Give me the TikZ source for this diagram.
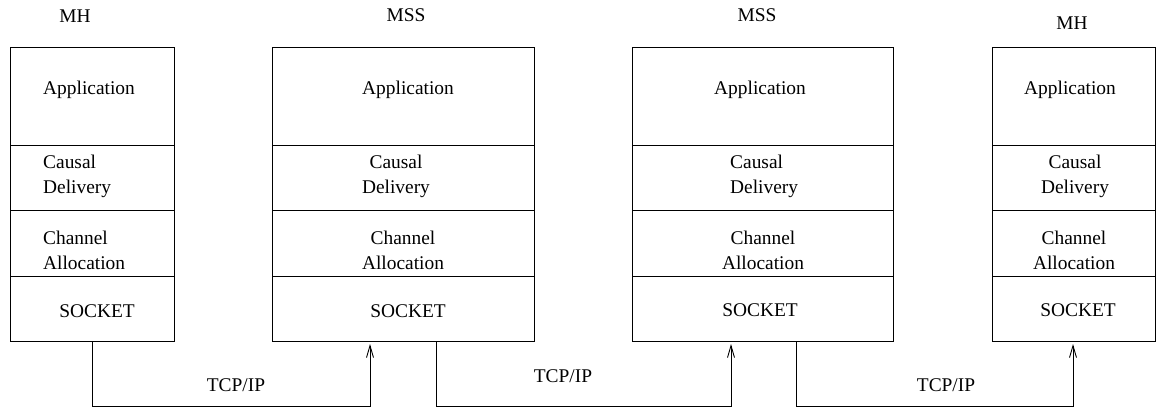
\documentclass[tikz,border=0pt]{standalone}
\usepackage{fontspec}
\setmainfont{Liberation Serif}
\usetikzlibrary{arrows.meta}
\begin{document}
\begin{tikzpicture}[x=1pt,y=-1pt,
  layer/.style={draw, line width=0.9pt, rectangle, inner sep=0pt, outer sep=0pt, anchor=north west},
  txt/.style={font=\fontsize{19.4}{25}\selectfont, inner sep=0pt},
  conn/.style={line width=0.9pt, -{Straight Barb[length=12pt,width=7pt]}, shorten >=3pt}]
\useasboundingbox (0,0) rectangle (1157,410);

% protocol stacks: application, causal delivery, channel allocation, socket
\foreach \n/\x/\w in {1/10/164, 2/272/262, 3/632/261, 4/992/163}{
  \node[layer, minimum width=\w pt, minimum height=98pt] (app\n) at (\x,47) {};
  \node[layer, minimum width=\w pt, minimum height=65pt] (cd\n) at (\x,145) {};
  \node[layer, minimum width=\w pt, minimum height=66pt] (ca\n) at (\x,210) {};
  \node[layer, minimum width=\w pt, minimum height=65pt] (sk\n) at (\x,276) {};
}

% host names
\node[txt] (h1) at (75,16) {MH};
\node[txt] (h2) at (406,15) {MSS};
\node[txt] (h3) at (757,15) {MSS};
\node[txt] (h4) at (1072,23) {MH};

% stack 1
\node[txt] (a1) at (89,90) {Application};
\node[txt, anchor=west, align=left] (c1) at (43,176) {Causal\\Delivery};
\node[txt, anchor=west, align=left] (l1) at (43,250) {Channel\\Allocation};
\node[txt] (s1) at (97,311) {SOCKET};

% stack 2
\node[txt] (a2) at (408,90) {Application};
\node[txt, align=center] (c2) at (396,176) {Causal\\Delivery};
\node[txt, align=center] (l2) at (403,250) {Channel\\Allocation};
\node[txt] (s2) at (408,311) {SOCKET};

% stack 3
\node[txt] (a3) at (760,90) {Application};
\node[txt, anchor=west, align=left] (c3) at (730,176) {Causal\\Delivery};
\node[txt, align=center] (l3) at (763,250) {Channel\\Allocation};
\node[txt] (s3) at (760,310) {SOCKET};

% stack 4
\node[txt] (a4) at (1070,90) {Application};
\node[txt, align=center] (c4) at (1075,176) {Causal\\Delivery};
\node[txt, align=center] (l4) at (1074,250) {Channel\\Allocation};
\node[txt] (s4) at (1078,310) {SOCKET};

% TCP/IP links between neighbouring sockets
\coordinate (o1) at (92,406);   \coordinate (i1) at (370,406);
\coordinate (o2) at (436,406);  \coordinate (i2) at (731,406);
\coordinate (o3) at (796,406);  \coordinate (i3) at (1073,406);

\draw[conn] (sk1.south -| o1) -- (o1) -- (i1) -- (sk2.south -| i1);
\draw[conn] (sk2.south -| o2) -- (o2) -- (i2) -- (sk3.south -| i2);
\draw[conn] (sk3.south -| o3) -- (o3) -- (i3) -- (sk4.south -| i3);

\node[txt] (t1) at (236,385) {TCP/IP};
\node[txt] (t2) at (563,376) {TCP/IP};
\node[txt] (t3) at (946,385) {TCP/IP};
\end{tikzpicture}
\end{document}
